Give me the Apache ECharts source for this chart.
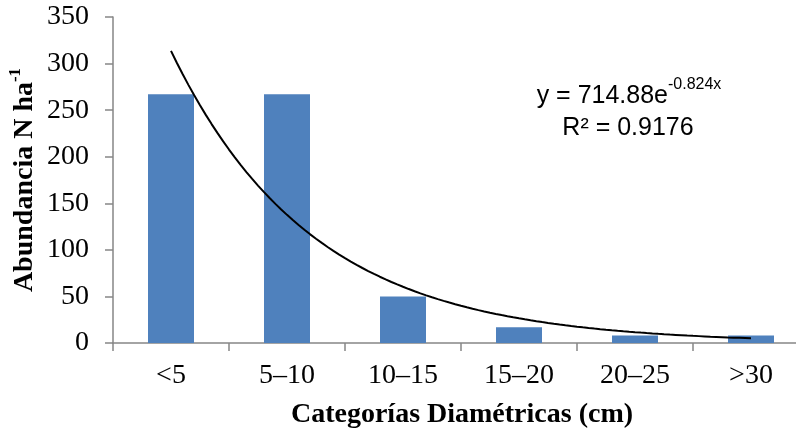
<!DOCTYPE html>
<html>
<head>
<meta charset="utf-8">
<script src="https://cdn.jsdelivr.net/npm/echarts@6/dist/echarts.min.js"></script>
<style>html,body{margin:0;padding:0;background:#fff}#c{width:796px;height:438px}</style>
</head>
<body>
<div id="c"></div>
<script>
var categories = ['<5', '5\u201310', '10\u201315', '15\u201320', '20\u201325', '>30'];
var abundance = [267, 267, 50, 17, 8, 8];
var yTicks = [0, 50, 100, 150, 200, 250, 300, 350];
// Exponential trendline as reported on the chart: y = 714.88 e^(-0.824x), x = category index 1..6
var trendA = 714.88;
var trendB = -0.824;
var trendR2 = 0.9176;

var trend = [];
for (var i = 0; i <= 100; i++) {
  var x = 1 + 5 * i / 100;
  trend.push([x, trendA * Math.exp(trendB * x)]);
}

var chart = echarts.init(document.getElementById('c'));
var serif = '"Liberation Serif", "Times New Roman", serif';
var sans = '"Liberation Sans", Arial, sans-serif';
var axisGray = '#868686';
chart.setOption({
  animation: false,
  backgroundColor: '#ffffff',
  grid: { left: 113, top: 17, width: 696, height: 326, outerBoundsMode: 'none', containLabel: false },
  xAxis: [{
    type: 'category',
    data: categories,
    boundaryGap: true,
    axisLine: { lineStyle: { color: axisGray, width: 1.5 } },
    axisTick: { show: true, interval: 0, length: 8, alignWithLabel: false, lineStyle: { color: axisGray, width: 1.5 } },
    axisLabel: { color: '#000', fontFamily: serif, fontSize: 28, margin: 19, interval: 0 }
  }, {
    type: 'value', min: 0.5, max: 6.5, show: false
  }],
  yAxis: {
    type: 'value', min: yTicks[0], max: yTicks[yTicks.length - 1], interval: 50,
    axisLine: { show: true, lineStyle: { color: axisGray, width: 1.5 } },
    axisTick: { show: true, length: 8, lineStyle: { color: axisGray, width: 1.5 } },
    axisLabel: { color: '#000', fontFamily: serif, fontSize: 28, margin: 24 },
    splitLine: { show: false }
  },
  series: [{
    type: 'bar', data: abundance, barWidth: 46, xAxisIndex: 0,
    itemStyle: { color: '#4F81BD' }
  }, {
    type: 'line', data: trend, xAxisIndex: 1, showSymbol: false, smooth: false,
    lineStyle: { color: '#000', width: 2 }, z: 5
  }],
  graphic: [{
    type: 'text', x: 23, y: 180, rotation: Math.PI / 2,
    style: {
      text: '{a|Abundancia N ha}{s|-1}',
      align: 'center', verticalAlign: 'middle',
      rich: {
        a: { fontFamily: serif, fontWeight: 'bold', fontSize: 28, fill: '#000', verticalAlign: 'bottom', lineHeight: 32 },
        s: { fontFamily: serif, fontWeight: 'bold', fontSize: 17, fill: '#000', verticalAlign: 'top', lineHeight: 32 }
      }
    }
  }, {
    type: 'text', x: 462, y: 415,
    style: {
      text: 'Categor\u00edas Diam\u00e9tricas (cm)',
      fontFamily: serif, fontWeight: 'bold', fontSize: 28, fill: '#000',
      align: 'center', verticalAlign: 'middle'
    }
  }, {
    type: 'text', x: 629, y: 93,
    style: {
      text: '{a|y = ' + trendA.toFixed(2) + 'e}{s|' + trendB.toFixed(3) + 'x}',
      align: 'center', verticalAlign: 'middle',
      rich: {
        a: { fontFamily: sans, fontSize: 25, fill: '#000', verticalAlign: 'bottom', lineHeight: 32 },
        s: { fontFamily: sans, fontSize: 16, fill: '#000', verticalAlign: 'top', lineHeight: 32 }
      }
    }
  }, {
    type: 'text', x: 628, y: 128,
    style: {
      text: 'R\u00b2 = ' + trendR2.toFixed(4),
      fontFamily: sans, fontSize: 25, fill: '#000',
      align: 'center', verticalAlign: 'middle'
    }
  }]
});
</script>
</body>
</html>
